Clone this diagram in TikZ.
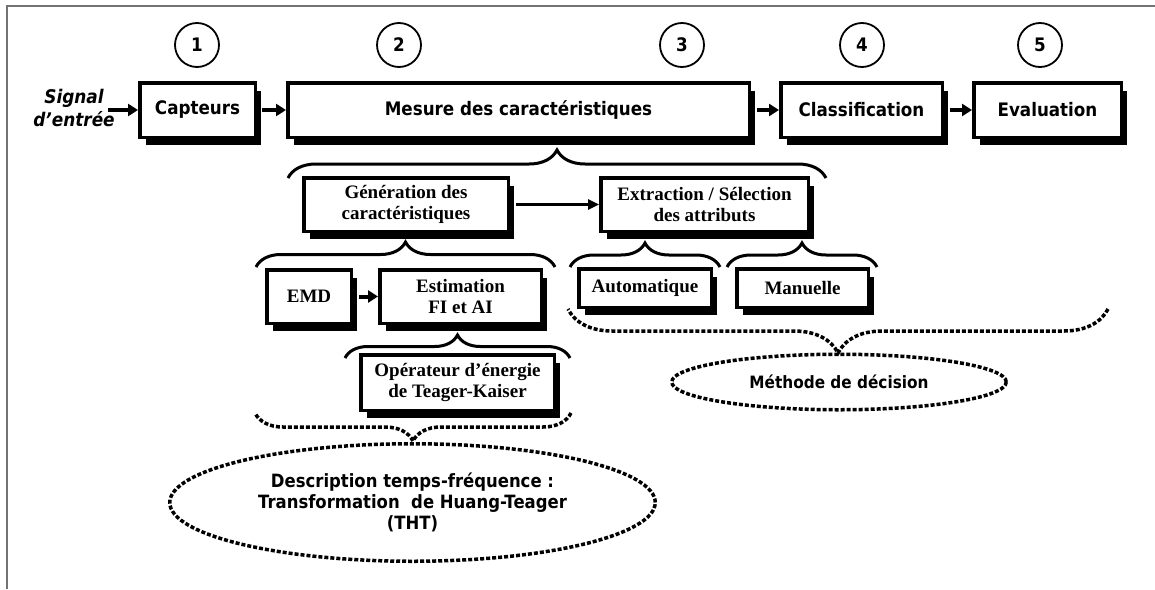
\documentclass[tikz,border=0pt]{standalone}
\usepackage{fontspec}
\setmainfont{Liberation Serif}
\newfontfamily\dvs[FakeStretch=0.9]{DejaVu Sans}
\usetikzlibrary{shapes.geometric,shadows,decorations.pathreplacing,arrows.meta,calc}
\begin{document}
\begin{tikzpicture}[x=1pt,y=-1pt,
  sbox/.style={draw,line width=3.5pt,fill=white,inner sep=1pt,align=center,
     drop shadow={shadow xshift=6pt,shadow yshift=-8pt,fill=black,opacity=1}},
  topbox/.style={sbox,minimum height=54.5pt,font=\dvs\bfseries\fontsize{18.6}{22}\selectfont},
  serbox/.style={sbox,font=\bfseries\fontsize{19}{21}\selectfont},
  num/.style={circle,draw,line width=1.8pt,minimum size=44pt,inner sep=0pt,font=\dvs\bfseries\fontsize{18.6}{22}\selectfont},
  bigarrow/.style={line width=4pt,-{Triangle[length=10pt,width=12pt]}},
  medarrow/.style={line width=2.5pt,-{Triangle[length=11pt,width=10pt]}},
  sbrace/.style={line width=3pt,decorate,decoration={brace,amplitude=#1}},
  dbrace/.style={line width=3.5pt,dash pattern=on 4pt off 2pt,decorate,decoration={brace,amplitude=#1}},
  dell/.style={ellipse,draw,line width=3.5pt,dash pattern=on 4pt off 2pt,inner sep=0pt,align=center},
]
\useasboundingbox (0,0) rectangle (1155,589);
% frame
\draw[black!55,line width=1.5pt] (1155,6) -- (7,6) -- (7,589);

% step numbers
\node[num] (n1) at (197,45) {1};
\node[num] (n2) at (399,45) {2};
\node[num] (n3) at (682,45) {3};
\node[num] (n4) at (862,45) {4};
\node[num] (n5) at (1040,45) {5};

% input signal
\node[inner sep=0pt,align=center,font=\dvs\bfseries\itshape\fontsize{18.8}{23}\selectfont] (sig) at (74,108) {Signal\\d’entrée};
\coordinate (sigend) at (108,110);

% main row
\node[topbox,minimum width=115.5pt] (capt) at (197.5,110) {Capteurs};
\node[topbox,minimum width=461.5pt] (mes) at (518.5,110) {Mesure des caractéristiques};
\node[topbox,minimum width=161.5pt] (cla) at (861.5,110) {Classification};
\node[topbox,minimum width=147.5pt] (eva) at (1047.5,110) {Evaluation};

\draw[bigarrow] (sigend) -- (capt.west);
\draw[bigarrow] ($(capt.east)+(5,0)$) -- (mes.west);
\draw[bigarrow] ($(mes.east)+(6,0)$) -- (cla.west);
\draw[bigarrow] ($(cla.east)+(6,0)$) -- (eva.west);

% second level
\node[serbox,minimum width=204.5pt,minimum height=53.5pt] (gen) at (406,204.5) {Génération des\\caractéristiques};
\node[serbox,minimum width=207.5pt,minimum height=53.5pt] (ext) at (704.5,204.5) {Extraction / Sélection\\des attributs};
\draw[medarrow] ($(gen.east)+(6,0)$) -- (ext.west);

% third level
\node[serbox,minimum width=84.5pt,minimum height=53.5pt] (emd) at (309,296.5) {EMD};
\node[serbox,minimum width=161.5pt,minimum height=53.5pt] (est) at (460.5,296.5) {Estimation\\FI et AI};
\node[serbox,minimum width=132.5pt,minimum height=38.5pt] (aut) at (645,288) {Automatique};
\node[serbox,minimum width=131.5pt,minimum height=38.5pt] (man) at (802.5,288) {Manuelle};
\draw[bigarrow] ($(emd.east)+(6,0)$) -- (est.west);

\node[serbox,minimum width=193.5pt,minimum height=55.5pt] (op) at (457.5,382.5) {Opérateur d’énergie\\de Teager-Kaiser};

% ellipses
\node[dell,minimum width=334.5pt,minimum height=55.5pt,font=\dvs\bfseries\fontsize{17}{21}\selectfont] (meth) at (839,382) {Méthode de décision};
\node[dell,minimum width=485.5pt,minimum height=117.5pt,font=\dvs\bfseries\fontsize{18.3}{21}\selectfont] (desc) at (412.5,502.5) {Description temps-fréquence :\\Transformation\ \ de Huang-Teager\\(THT)};

% braces
\draw[sbrace=28pt] (288,178) -- (826,178);
\draw[sbrace=25pt] (256,267) -- (555,267);
\draw[sbrace=24pt] (570,267) -- (720,267);
\draw[sbrace=24pt] (727,267) -- (877,267);
\draw[sbrace=23pt] (345,358) -- (570,358);
\draw[dbrace=28pt] (571,413) -- (255,413);
\draw[dbrace=44pt] (1108,309) -- (568,309);
\end{tikzpicture}
\end{document}
